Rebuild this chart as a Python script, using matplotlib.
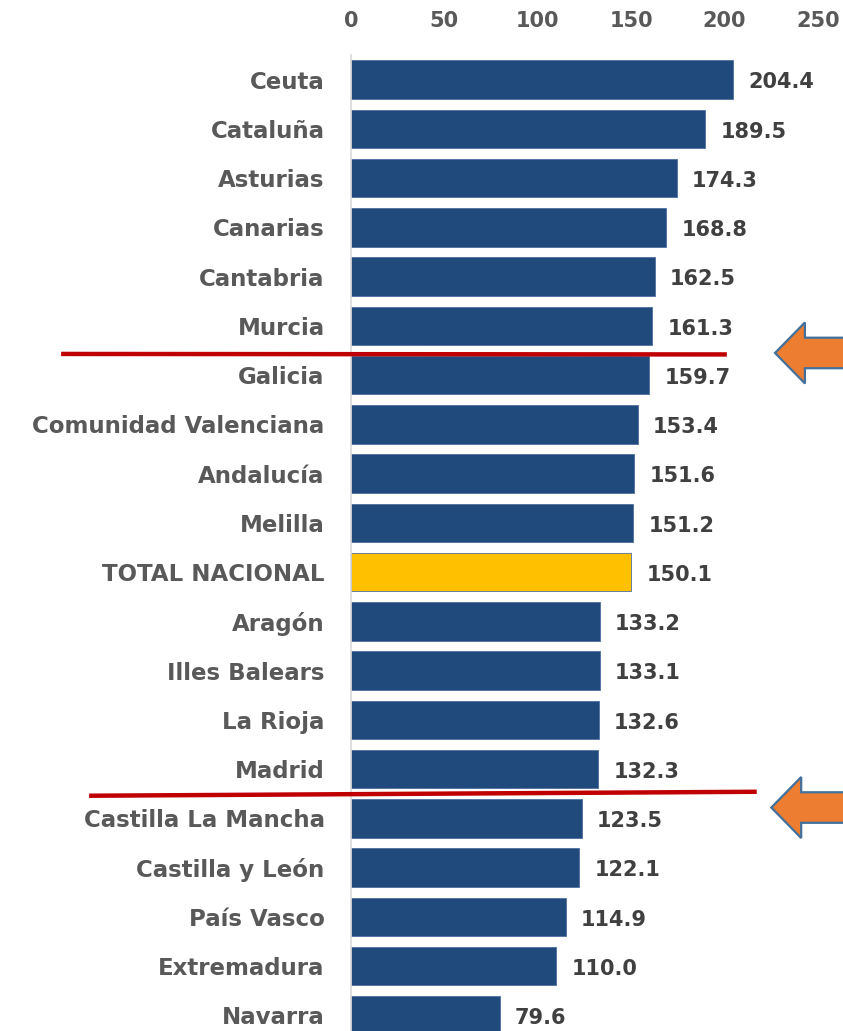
import matplotlib.pyplot as plt
from matplotlib.patches import Polygon
from matplotlib.lines import Line2D

regions = ["Ceuta", "Cataluña", "Asturias", "Canarias", "Cantabria", "Murcia",
           "Galicia", "Comunidad Valenciana", "Andalucía", "Melilla", "TOTAL NACIONAL",
           "Aragón", "Illes Balears", "La Rioja", "Madrid", "Castilla La Mancha",
           "Castilla y León", "País Vasco", "Extremadura", "Navarra"]
values = [204.4, 189.5, 174.3, 168.8, 162.5, 161.3, 159.7, 153.4, 151.6, 151.2,
          150.1, 133.2, 133.1, 132.6, 132.3, 123.5, 122.1, 114.9, 110.0, 79.6]
x_ticks = [0, 50, 100, 150, 200, 250]

blue = "#1F4A7B"
gold = "#FFC000"
colors = [gold if r == "TOTAL NACIONAL" else blue for r in regions]

plt.rcParams['font.family'] = ['DejaVu Sans']

fig = plt.figure(figsize=(8.43, 10.31), dpi=100)
W, H = 843, 1031
left, right, top, bottom = 351, 818, 55, 1040
ax = fig.add_axes([left / W, (H - bottom) / H, (right - left) / W, (bottom - top) / H])

y = list(range(len(regions)))
ax.barh(y, values, height=0.78, color=colors, edgecolor="#4F6F9F", linewidth=0.6)
ax.set_ylim(len(regions) - 0.5, -0.5)
ax.set_xlim(0, 250)

ax.set_yticks(y)
ax.set_yticklabels(regions, fontsize=16.5, fontweight="bold", color="#595959")
ax.set_xticks(x_ticks)
ax.set_xticklabels([str(t) for t in x_ticks], fontsize=15, fontweight="bold", color="#595959")
ax.xaxis.tick_top()
ax.tick_params(axis="y", length=0, pad=19)
ax.tick_params(axis="x", length=0, pad=17)

for s in ["top", "right", "bottom"]:
    ax.spines[s].set_visible(False)
ax.spines["left"].set_color("#D9D9D9")
ax.spines["left"].set_linewidth(1.2)

for yi, v in zip(y, values):
    ax.annotate(f"{v:.1f}", (v, yi), xytext=(11, -2), textcoords="offset points",
                ha="left", va="center", fontsize=15, fontweight="bold", color="#404040")

# red separator lines
for (x0, y0), (x1, y1) in [((-154, 5.57), (200, 5.58)), ((-139, 14.54), (216, 14.46))]:
    ax.add_line(Line2D([x0, x1], [y0, y1], color="#C00000", lw=3.2, clip_on=False, zorder=5))

# orange arrows
def arrow(tip_x, cy):
    hl, hw, sw, end = 16, 0.62, 0.31, 285
    pts = [(tip_x, cy), (tip_x + hl, cy - hw), (tip_x + hl, cy - sw), (end, cy - sw),
           (end, cy + sw), (tip_x + hl, cy + sw), (tip_x + hl, cy + hw)]
    ax.add_patch(Polygon(pts, closed=True, facecolor="#ED7D31", edgecolor="#41719C",
                         lw=1.6, clip_on=False, zorder=5))

arrow(227, 5.55)
arrow(225, 14.78)

fig.savefig("out.png", dpi=100)
